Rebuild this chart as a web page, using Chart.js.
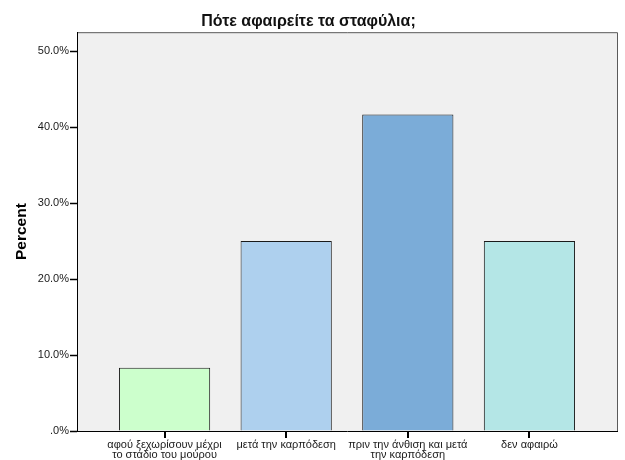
<!DOCTYPE html>
<html>
<head>
<meta charset="utf-8">
<script src="https://cdn.jsdelivr.net/npm/chart.js@4"></script>
<style>
  html, body { margin: 0; padding: 0; background: #ffffff; }
  #wrap { width: 625px; height: 460px; }
</style>
</head>
<body>
<div id="wrap"><canvas id="grafico" width="625" height="460"></canvas></div>
<script>
// categorias e valores (percentagens)
const categorias = [
  ["αφού ξεχωρίσουν μέχρι", "το στάδιο του μούρου"],
  ["μετά την καρπόδεση"],
  ["πριν την άνθιση και μετά", "την καρπόδεση"],
  ["δεν αφαιρώ"],
];
const percentagens = [8.33, 25.0, 41.67, 25.0];
const ticksY = [0, 10, 20, 30, 40, 50];
const coresBarras = ["#ccffcc", "#aed0ee", "#7bacd8", "#b4e6e6"];

const FONTE = "Arial, 'Liberation Sans', sans-serif";

// fundo cinza e moldura da área do gráfico
const fundoArea = {
  id: "fundoArea",
  beforeDraw(chart) {
    const { ctx, chartArea: a } = chart;
    ctx.save();
    ctx.fillStyle = "#f0f0f0";
    ctx.fillRect(a.left, a.top, a.right - a.left, a.bottom - a.top);
    ctx.strokeStyle = "#5a5a5a";
    ctx.lineWidth = 1;
    ctx.beginPath();
    ctx.moveTo(a.left, a.top + 0.5);
    ctx.lineTo(a.right + 0.5, a.top + 0.5);
    ctx.lineTo(a.right + 0.5, a.bottom);
    ctx.stroke();
    ctx.restore();
  },
  // marcas do eixo x no centro de cada barra
  afterDraw(chart) {
    const { ctx, chartArea: a } = chart;
    const escalaX = chart.scales.x;
    ctx.save();
    ctx.fillStyle = "#000";
    categorias.forEach((c, i) => {
      const px = Math.round(escalaX.getPixelForValue(i));
      ctx.fillRect(px - 1, a.bottom, 2, 7);
    });
    ctx.restore();
  },
};

new Chart(document.getElementById("grafico"), {
  type: "bar",
  data: {
    datasets: [
      {
        data: percentagens.map((v, i) => ({ x: i, y: v })),
        backgroundColor: coresBarras,
        borderColor: "#1a1a1a",
        borderWidth: 1,
        barPercentage: 1,
        categoryPercentage: 0.75,
      },
    ],
  },
  options: {
    responsive: false,
    animation: false,
    layout: { padding: { left: 0, right: 8, top: 0, bottom: 0 } },
    plugins: {
      legend: { display: false },
      tooltip: { enabled: false },
      title: {
        display: true,
        text: "Πότε αφαιρείτε τα σταφύλια;",
        color: "#111",
        font: { family: FONTE, size: 16, weight: "bold" },
        padding: { top: 12, bottom: 1 },
      },
    },
    scales: {
      x: {
        type: "linear",
        min: -0.72,
        max: 3.72,
        offset: false,
        afterBuildTicks(scale) {
          scale.ticks = categorias.map((c, i) => ({ value: i }));
        },
        afterFit(scale) {
          scale.height = 29;
        },
        ticks: {
          autoSkip: false,
          maxRotation: 0,
          padding: 3,
          color: "#1a1a1a",
          font: { family: FONTE, size: 11, lineHeight: 0.9 },
          callback: (v) => categorias[v],
        },
        grid: {
          offset: false,
          drawOnChartArea: false,
          tickLength: 6,
          color: "#000",
        },
        border: { color: "#000", width: 1 },
      },
      y: {
        min: 0,
        max: 52.5,
        afterBuildTicks(scale) {
          scale.ticks = ticksY.map((v) => ({ value: v }));
        },
        afterFit(scale) {
          scale.width = 77;
        },
        ticks: {
          padding: 1,
          color: "#1a1a1a",
          font: { family: FONTE, size: 11 },
          callback: (v) => (v === 0 ? ".0%" : v.toFixed(1) + "%"),
        },
        grid: {
          drawOnChartArea: false,
          drawTicks: true,
          tickLength: 7,
          tickColor: "#000",
          tickWidth: 1.5,
          color: "#000",
        },
        border: { color: "#000", width: 1 },
        title: {
          display: true,
          text: "Percent",
          color: "#000",
          font: { family: FONTE, size: 15.5, weight: "bold" },
          padding: { top: 12, bottom: 0 },
        },
      },
    },
  },
  plugins: [fundoArea],
});
</script>
</body>
</html>
